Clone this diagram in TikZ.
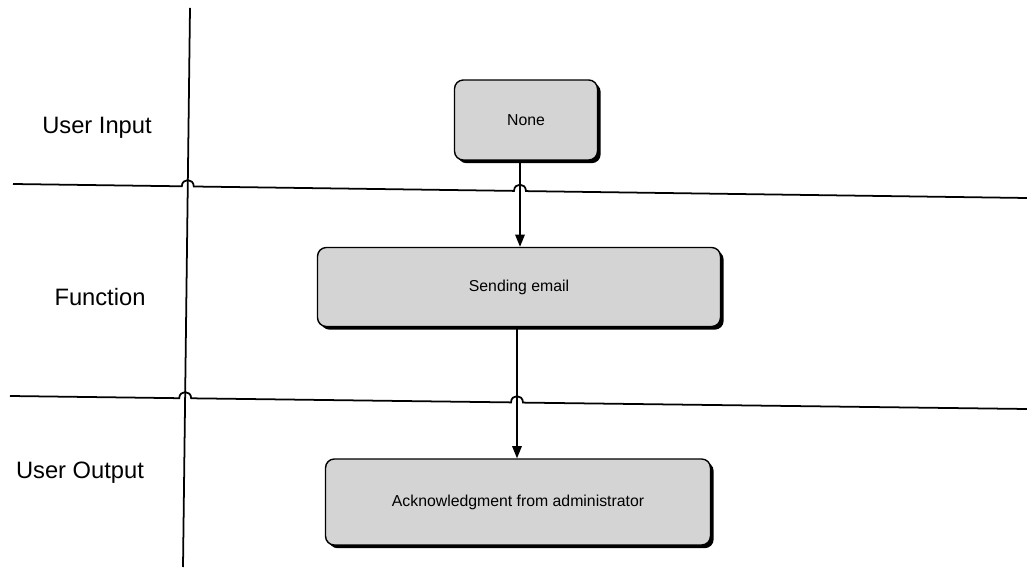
\documentclass[tikz,border=0pt]{standalone}
\usepackage{fontspec}
\setmainfont{Liberation Sans}
\usetikzlibrary{arrows.meta,shadows}
\begin{document}
\begin{tikzpicture}[x=0.02cm,y=-0.02cm,
  lane/.style={line width=1pt,black},
  lanelabel/.style={font=\fontsize{13.5}{16}\selectfont,anchor=center},
  stepbox/.style={draw=black,line width=0.8pt,rounded corners=5pt,
    fill=black!17,font=\fontsize{9}{11}\selectfont,
    inner sep=0pt,
    drop shadow={shadow xshift=1.8pt,shadow yshift=-1.8pt,fill=black,opacity=1}},
  flow/.style={line width=0.8pt,-{Triangle[width=5.5pt,length=7pt]}}
]
\useasboundingbox (0,0) rectangle (1027,570);

% vertical divider between labels and lanes
\draw[lane] (190,8) -- (183,567);

% upper lane divider, hopping over the divider and the first arrow
\draw[lane] (13,184) -- (181.8,186.3)
  .. controls (182,178) and (193.6,178) .. (193.8,186.5)
  -- (514,190.9)
  .. controls (514.2,182.5) and (525.8,182.5) .. (526,191.1)
  -- (1027,198);

% lower lane divider, hopping over the divider and the second arrow
\draw[lane] (10,396) -- (179.2,398.2)
  .. controls (179.4,390) and (191,390) .. (191.2,398.3)
  -- (511,402.4)
  .. controls (511.2,394) and (522.8,394) .. (523,402.6)
  -- (1027,409);

% lane labels
\node[lanelabel] (lin)  at (97,128)  {User Input};
\node[lanelabel] (lfn)  at (100,297) {Function};
\node[lanelabel] (lout) at (80,473)  {User Output};

% process steps
\node[stepbox,minimum width=2.86cm,minimum height=1.6cm] (none) at (526,120) {None};
\node[stepbox,minimum width=8.06cm,minimum height=1.58cm] (send) at (519,287) {Sending email};
\node[stepbox,minimum width=7.7cm,minimum height=1.72cm] (ack) at (518,502) {Acknowledgment from administrator};

% flow between steps
\draw[flow] (none.south -| 520,0) -- (send.north -| 520,0);
\draw[flow] (send.south -| 517,0) -- (ack.north -| 517,0);
\end{tikzpicture}
\end{document}
